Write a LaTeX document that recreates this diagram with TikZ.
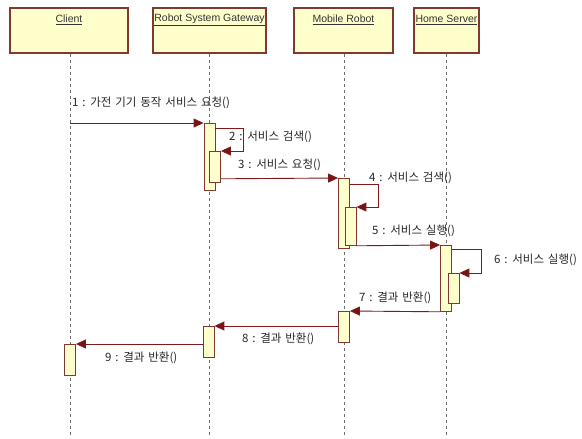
\documentclass[tikz,border=0pt]{standalone}
\usepackage{fontspec}
\setmainfont{Liberation Sans}
\newfontfamily\kr[WordSpace=1.5]{Noto Sans CJK KR}
\usetikzlibrary{arrows.meta}
\definecolor{boxfill}{RGB}{255,255,204}
\definecolor{boxline}{RGB}{128,56,48}
\definecolor{msgline}{RGB}{128,24,24}
\definecolor{lifeline}{RGB}{110,110,110}
\tikzset{
  header/.style={draw=boxline, line width=1.1pt, fill=boxfill, minimum height=45pt, inner sep=0pt},
  htext/.style={font=\fontsize{10.5}{12}\selectfont, text=black!80, inner sep=0pt},
  act/.style={draw=boxline, line width=0.8pt, fill=boxfill, minimum width=11pt, inner sep=0pt, anchor=north},
  life/.style={draw=lifeline, line width=0.8pt, dash pattern=on 3pt off 3pt},
  msg/.style={draw=msgline, line width=0.9pt, -{Triangle[length=10pt,width=9pt,fill=msgline!90!black]}},
  lbl/.style={font=\kr\fontsize{11.5}{13}\selectfont, anchor=west, inner sep=0pt, text=black!85}
}
\begin{document}
\begin{tikzpicture}[x=1pt,y=-1pt]
\useasboundingbox (0,0) rectangle (582,439);
% headers
\node[header, minimum width=118pt] (client) at (69,30.5) {};
\node[header, minimum width=113pt] (rsg) at (209.5,30.5) {};
\node[header, minimum width=99pt] (mr) at (343.5,30.5) {};
\node[header, minimum width=65pt] (hs) at (446.5,30.5) {};
\node[htext] (tclient) at (69,20) {\underline{Client}};
\node[htext] (trsg) at (209.5,20) {\underline{Robot System Gateway}};
\node[htext] (tmr) at (343.5,20) {\underline{Mobile Robot}};
\node[htext] (ths) at (446.5,20) {\underline{Home Server}};
% lifeline ends
\coordinate (eclient) at (70,437);
\coordinate (ersg) at (209.5,437);
\coordinate (emr) at (344,437);
\coordinate (ehs) at (446,437);
\draw[life] (client.south -| eclient) -- (eclient);
\draw[life] (rsg.south -| ersg) -- (ersg);
\draw[life] (mr.south -| emr) -- (emr);
\draw[life] (hs.south -| ehs) -- (ehs);
% activations
\node[act, minimum height=67pt] (g1) at (209.5,123) {};
\node[act, minimum height=31pt] (g2) at (215,151) {};
\node[act, minimum height=70pt] (m1) at (344,178) {};
\node[act, minimum height=38pt] (m2) at (350.5,207) {};
\node[act, minimum height=66pt] (h1) at (446,245) {};
\node[act, minimum height=30pt] (h2) at (453.5,273) {};
\node[act, minimum height=31pt] (m3) at (344,311) {};
\node[act, minimum height=31pt] (g3) at (208.5,326) {};
\node[act, minimum height=31pt] (c1) at (70,344) {};
% messages
\coordinate (s1) at (70,123);
\draw[msg] (s1) -- (g1.north west);
\draw[msg] ([yshift=-5pt]g1.north east) -- ++(28,0) |- (g2.north east);
\draw[msg] ([yshift=4pt]g2.south east) -- (m1.north west);
\draw[msg] ([yshift=-6pt]m1.north east) -- ++(29,0) |- (m2.north east);
\draw[msg] (m2.south east) -- (h1.north west);
\draw[msg] ([yshift=-4pt]h1.north east) -- ++(30,0) |- (h2.north east);
\draw[msg] (h1.south west) -- (m3.north east);
\draw[msg] (m3.west |- g3.north) -- (g3.north east);
\draw[msg] (g3.west |- c1.north) -- (c1.north east);
% labels
\node[lbl] (l1) at (72,103) {1 : 가전 기기 동작 서비스 요청()};
\node[lbl] (l2) at (229,137) {2 : 서비스 검색()};
\node[lbl] (l3) at (238,165) {3 : 서비스 요청()};
\node[lbl] (l4) at (369,178) {4 : 서비스 검색()};
\node[lbl] (l5) at (372,231) {5 : 서비스 실행()};
\node[lbl] (l6) at (494,260) {6 : 서비스 실행()};
\node[lbl] (l7) at (359,298) {7 : 결과 반환()};
\node[lbl] (l8) at (242,339) {8 : 결과 반환()};
\node[lbl] (l9) at (105,358) {9 : 결과 반환()};
\end{tikzpicture}
\end{document}
